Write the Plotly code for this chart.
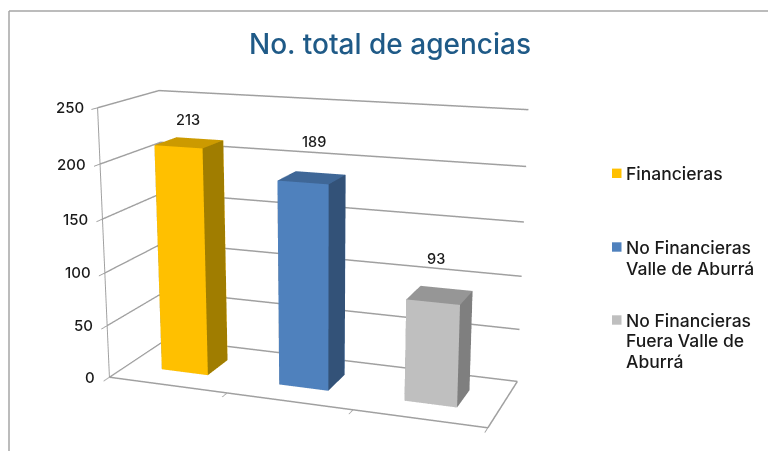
import plotly.graph_objects as go

# ---- data ----
categories = ["Financieras", "No Financieras", "No Financieras Fuera Valle de Aburrá"]
legend_lines = [["Financieras"], ["No Financieras", "Valle de Aburrá"], ["No Financieras", "Fuera Valle de", "Aburrá"]]
values = [213, 189, 93]
z_ticks = [0, 50, 100, 150, 200, 250]
front = ["#FFC000", "#4F81BD", "#BFBFBF"]
top = ["#CC9A00", "#3F6797", "#969696"]
side = ["#A07D00", "#335278", "#7F7F7F"]
title = "No. total de agencias"

# ---- geometry of the canvas: 1094 px tall scene gives the long lens of the original ----
FW, FH = 900, 1094
OX, OY = 129, 288
GRID = "#A0A0A0"
def px(x): return (x + OX) / FW
def py(y): return 1 - (y + OY) / FH

gap, y0, y1 = 0.300, 0.306, 0.685
fig = go.Figure()
for i, v in enumerate(values):
    xs = [i + gap, i + 1 - gap]; ys = [y0, y1]
    X = [xs[a] for a in (0, 1, 1, 0, 0, 1, 1, 0)]
    Y = [ys[a] for a in (0, 0, 1, 1, 0, 0, 1, 1)]
    Z = [0, 0, 0, 0, v, v, v, v]
    I = [0, 0, 1, 1, 4, 4, 0, 0, 3, 3, 0, 0]
    J = [1, 5, 2, 6, 5, 6, 3, 7, 2, 6, 1, 2]
    K = [5, 4, 6, 5, 6, 7, 7, 4, 6, 7, 2, 3]
    fc = [front[i]] * 2 + [side[i]] * 2 + [top[i]] * 2 + [side[i]] * 2 + [front[i]] * 2 + [top[i]] * 2
    fig.add_trace(go.Mesh3d(x=X, y=Y, z=Z, i=I, j=J, k=K, facecolor=fc, flatshading=True, name=categories[i],
                            lighting=dict(ambient=1, diffuse=0, specular=0, fresnel=0, roughness=1), hoverinfo="skip"))
fig.add_trace(go.Scatter3d(x=[3, 3], y=[0, 1], z=[0, 0], mode="lines", line=dict(color=GRID, width=3),
                           showlegend=False, hoverinfo="skip"))

ax = dict(showbackground=False, title="", showspikes=False)
txt = "#1A1A1A"
label_dy = [23, 36, 37]
label_dx = [-1, 2, -4]
annos = []
y_rows = [[173], [247, 268], [320, 340, 361]]
sq_y = [173.3, 247, 320]
shapes = [
    dict(type="line", xref="paper", yref="paper", x0=px(9), x1=px(768), y0=py(11), y1=py(11), line=dict(color="#A6A6A6", width=1.5)),
    dict(type="line", xref="paper", yref="paper", x0=px(9), x1=px(9), y0=py(451), y1=py(11), line=dict(color="#A6A6A6", width=1.5)),
]
for i, lines in enumerate(legend_lines):
    shapes.append(dict(type="rect", xref="paper", yref="paper", x0=px(612), x1=px(621.5), y0=py(sq_y[i] + 4.7), y1=py(sq_y[i] - 4.7),
                       fillcolor=front[i], line=dict(width=0)))
    for t, yy in zip(lines, y_rows[i]):
        annos.append(dict(xref="paper", yref="paper", x=px(623.5), y=py(yy), xanchor="left", yanchor="middle", text=t,
                          showarrow=False, font=dict(family="Inter", size=17.5, color=txt, weight=500)))

scene_annos = [dict(x=i + .5, y=(y0 + y1) / 2, z=v, text=str(v), showarrow=False, yshift=label_dy[i], xshift=label_dx[i],
                    font=dict(family="Inter", size=14.5, color=txt, weight=500)) for i, v in enumerate(values)]
scene_annos += [dict(x=0, y=0, z=t, text=str(t), showarrow=False, xanchor="right", xshift=-12,
                     font=dict(family="Inter", size=15, color=txt, weight=500)) for t in z_ticks]

fig.update_layout(
    width=FW, height=FH, margin=dict(l=0, r=0, t=0, b=0), paper_bgcolor="white", showlegend=False,
    title=dict(text=title, x=px(390), y=py(44), xanchor="center", yanchor="middle",
               font=dict(family="Inter", size=28, color="#1F5A87", weight=500)),
    scene=dict(
        domain=dict(x=[0, 1], y=[0, 1]), aspectmode="manual", aspectratio=dict(x=1.425, y=0.473, z=1),
        camera=dict(eye=dict(x=1.600, y=-4.289, z=1.185), center=dict(x=0.033, y=0.001, z=-0.039), up=dict(x=-0.001, y=0, z=1)),
        xaxis=dict(ax, range=[0, 3], tickvals=[1, 2, 3], showticklabels=False, showgrid=False, showline=True,
                   linecolor=GRID, linewidth=3, ticks="outside", ticklen=8, tickwidth=2, tickcolor=GRID, zeroline=False),
        yaxis=dict(ax, range=[0, 1], showticklabels=False, showgrid=False, showline=False, ticks="", zeroline=False),
        zaxis=dict(ax, range=[0, 250], tickvals=z_ticks, showgrid=True, gridcolor=GRID, gridwidth=3, showline=True,
                   linecolor=GRID, linewidth=2, ticks="outside", tickcolor=GRID, ticklen=8, tickwidth=2, showticklabels=False, zeroline=False),
        annotations=scene_annos,
    ),
    shapes=shapes, annotations=annos)
fig.write_html("out.html", post_script=f"document.body.style.margin='{-OY}px 0 0 {-OX}px';document.body.style.overflow='hidden';document.documentElement.style.overflow='hidden';")
